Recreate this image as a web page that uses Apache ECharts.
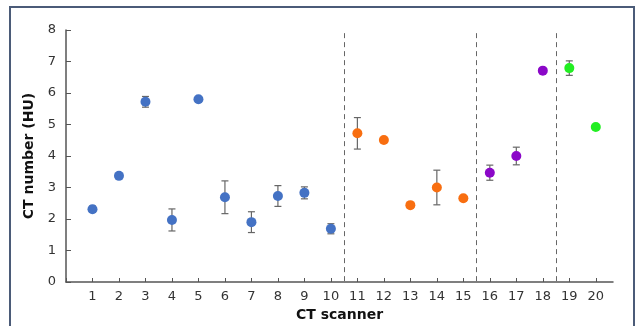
<!DOCTYPE html>
<html>
<head>
<meta charset="utf-8">
<script src="https://cdn.jsdelivr.net/npm/echarts@6/dist/echarts.min.js"></script>
<style>
html, body { margin: 0; padding: 0; background: #fff; }
#main { width: 638px; height: 326px; }
</style>
</head>
<body>
<div id="main"></div>
<script>
// CT scanner groups, mean CT number (HU) and error (+/-)
var blueX = [1, 2, 3, 4, 5, 6, 7, 8, 9, 10];
var blueY = [2.31, 3.37, 5.72, 1.97, 5.80, 2.69, 1.90, 2.73, 2.83, 1.69];
var blueErr = [0.10, 0, 0.17, 0.35, 0, 0.52, 0.33, 0.33, 0.19, 0.16];

var orangeX = [11, 12, 13, 14, 15];
var orangeY = [4.72, 4.51, 2.44, 3.00, 2.66];
var orangeErr = [0.50, 0, 0.08, 0.55, 0];

var purpleX = [16, 17, 18];
var purpleY = [3.47, 4.00, 6.71];
var purpleErr = [0.24, 0.28, 0];

var greenX = [19, 20];
var greenY = [6.79, 4.92];
var greenErr = [0.23, 0];

var dividers = [10.5, 15.5, 18.5];

var dom = document.getElementById('main');
var myChart = echarts.init(dom);

function points(xs, ys) {
    return xs.map(function (x, i) { return [x, ys[i]]; });
}
function errors(xs, ys, es) {
    var out = [];
    xs.forEach(function (x, i) {
        if (es[i] > 0) out.push([x, ys[i] - es[i], ys[i] + es[i]]);
    });
    return out;
}

var errData = [].concat(
    errors(blueX, blueY, blueErr),
    errors(orangeX, orangeY, orangeErr),
    errors(purpleX, purpleY, purpleErr),
    errors(greenX, greenY, greenErr)
);

function renderErr(params, api) {
    var x = api.value(0);
    var lo = api.coord([x, api.value(1)]);
    var hi = api.coord([x, api.value(2)]);
    var w = 3.5;
    var style = { stroke: '#666', lineWidth: 1.2 };
    return {
        type: 'group',
        children: [
            { type: 'line', shape: { x1: lo[0], y1: lo[1], x2: hi[0], y2: hi[1] }, style: style },
            { type: 'line', shape: { x1: lo[0] - w, y1: lo[1], x2: lo[0] + w, y2: lo[1] }, style: style },
            { type: 'line', shape: { x1: hi[0] - w, y1: hi[1], x2: hi[0] + w, y2: hi[1] }, style: style }
        ]
    };
}

var font = 'DejaVu Sans';

option = {
    animation: false,
    backgroundColor: '#fff',
    textStyle: { fontFamily: font },
    graphic: [{
        type: 'rect',
        shape: { x: 10, y: 7, width: 624, height: 340 },
        style: { fill: 'none', stroke: '#4b5b78', lineWidth: 2 },
        silent: true
    }],
    grid: { left: 66, right: 25, top: 30, bottom: 44, outerBoundsMode: 'none', containLabel: false },
    xAxis: {
        type: 'value',
        min: 0,
        max: 20.65,
        interval: 1,
        name: 'CT scanner',
        nameLocation: 'middle',
        nameGap: 26,
        nameTextStyle: { fontWeight: 'bold', fontSize: 14, color: '#111', fontFamily: font },
        axisLine: { lineStyle: { color: '#555', width: 1.5 } },
        axisTick: { inside: true, length: 4, lineStyle: { color: '#555' } },
        axisLabel: {
            color: '#333', fontSize: 13, margin: 8, fontFamily: font,
            showMaxLabel: false,
            formatter: function (v) { return v === 0 ? '' : v; }
        },
        splitLine: { show: false }
    },
    yAxis: {
        type: 'value',
        min: 0,
        max: 8,
        interval: 1,
        name: 'CT number (HU)',
        nameLocation: 'middle',
        nameGap: 29,
        nameTextStyle: { fontWeight: 'bold', fontSize: 14, color: '#111', fontFamily: font },
        axisLine: { show: true, lineStyle: { color: '#555', width: 1.5 } },
        axisTick: { show: true, inside: true, length: 5, lineStyle: { color: '#555' } },
        axisLabel: { color: '#333', fontSize: 13, margin: 10, fontFamily: font },
        splitLine: { show: false }
    },
    series: [{
        type: 'custom',
        renderItem: renderErr,
        data: errData,
        z: 1
    }, {
        type: 'scatter',
        symbolSize: 10,
        itemStyle: { color: '#4472c4', opacity: 1 },
        data: points(blueX, blueY),
        z: 3,
        markLine: {
            silent: true,
            symbol: 'none',
            label: { show: false },
            lineStyle: { color: '#666', type: [5, 4], width: 1 },
            data: dividers.map(function (d) {
                return [{ coord: [d, 7.9] }, { coord: [d, 0] }];
            })
        }
    }, {
        type: 'scatter',
        symbolSize: 10,
        itemStyle: { color: '#f86e10', opacity: 1 },
        data: points(orangeX, orangeY),
        z: 3
    }, {
        type: 'scatter',
        symbolSize: 10,
        itemStyle: { color: '#8b08c8', opacity: 1 },
        data: points(purpleX, purpleY),
        z: 3
    }, {
        type: 'scatter',
        symbolSize: 10,
        itemStyle: { color: '#22ee22', opacity: 1 },
        data: points(greenX, greenY),
        z: 3
    }]
};

myChart.setOption(option, true);
</script>
</body>
</html>
